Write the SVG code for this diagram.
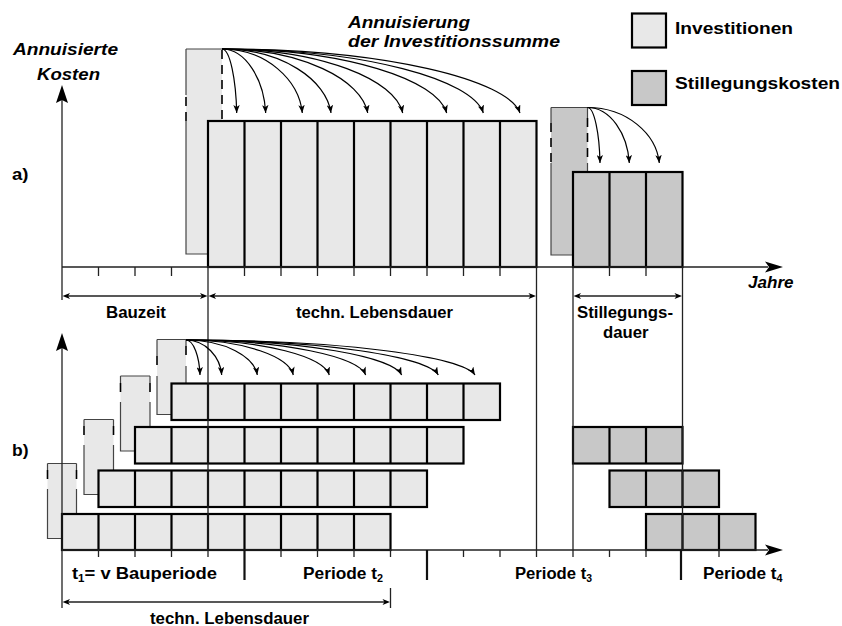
<svg xmlns="http://www.w3.org/2000/svg" width="842" height="626" viewBox="0 0 842 626">
<defs>
<style>
.inv{fill:#e8e8e8}
.sti{fill:#c8c8c8}
.blk{stroke:#000;stroke-width:2.2}
.div{stroke:#000;stroke-width:2.2;fill:none}
.edge{stroke:#444;stroke-width:1.2;fill:none}
.dash{stroke:#000;stroke-width:1.6;fill:none;stroke-dasharray:9 6}
.ln{stroke:#222;stroke-width:1.3;fill:none}
.thick{stroke:#111;stroke-width:2.2;fill:none}
.cur{stroke:#000;stroke-width:1.2;fill:none;marker-end:url(#ah)}
.hd{fill:#000}
.t{font-family:"Liberation Sans",Arial,Helvetica,sans-serif;font-weight:bold;font-size:16px;fill:#000}
.it{font-style:italic}
.sub{font-size:10px}
</style>
<marker id="ah" viewBox="0 0 10 8" refX="10" refY="4" markerWidth="8" markerHeight="6.4" markerUnits="userSpaceOnUse" orient="auto">
<path d="M0,0 L10,4 L0,8 L2.5,4 Z" fill="#000"/>
</marker>
</defs>
<rect width="842" height="626" fill="#fff"/>

<!-- legend -->
<g id="legend-inv">
<rect x="632" y="13.5" width="34" height="34" class="inv blk"/>
<text class="t" x="675" y="34" font-size="17" textLength="118" lengthAdjust="spacingAndGlyphs">Investitionen</text>
</g>
<g id="legend-sti">
<rect x="632" y="71" width="34" height="34" class="sti blk"/>
<text class="t" x="675" y="89" font-size="17" textLength="165" lengthAdjust="spacingAndGlyphs">Stillegungskosten</text>
</g>

<!-- labels -->
<g id="labels">
<text class="t it" x="13" y="55" textLength="105" lengthAdjust="spacingAndGlyphs">Annuisierte</text>
<text class="t it" x="37" y="80" textLength="63" lengthAdjust="spacingAndGlyphs">Kosten</text>
<text class="t it" x="348" y="28" textLength="122" lengthAdjust="spacingAndGlyphs">Annuisierung</text>
<text class="t it" x="348" y="47" textLength="212" lengthAdjust="spacingAndGlyphs">der Investitionssumme</text>
<text class="t" x="12" y="179.5" textLength="16.5" lengthAdjust="spacingAndGlyphs">a)</text>
<text class="t" x="12" y="456" textLength="16.5" lengthAdjust="spacingAndGlyphs">b)</text>
<text class="t it" x="748" y="288" textLength="45.5" lengthAdjust="spacingAndGlyphs">Jahre</text>
<text class="t" x="106" y="318" textLength="60" lengthAdjust="spacingAndGlyphs">Bauzeit</text>
<text class="t" x="296" y="318" textLength="157" lengthAdjust="spacingAndGlyphs">techn. Lebensdauer</text>
<text class="t" x="577" y="318" textLength="96" lengthAdjust="spacingAndGlyphs">Stillegungs-</text>
<text class="t" x="603" y="338" textLength="45.5" lengthAdjust="spacingAndGlyphs">dauer</text>
<text class="t" x="72" y="579" textLength="145" lengthAdjust="spacingAndGlyphs">t<tspan class="sub" dy="3">1</tspan><tspan dy="-3">= v Bauperiode</tspan></text>
<text class="t" x="303" y="579" textLength="80" lengthAdjust="spacingAndGlyphs">Periode t<tspan class="sub" dy="3">2</tspan></text>
<text class="t" x="515" y="579" textLength="77" lengthAdjust="spacingAndGlyphs">Periode t<tspan class="sub" dy="3">3</tspan></text>
<text class="t" x="703" y="579" textLength="79.5" lengthAdjust="spacingAndGlyphs">Periode t<tspan class="sub" dy="3">4</tspan></text>
<text class="t" x="150" y="624" textLength="159" lengthAdjust="spacingAndGlyphs">techn. Lebensdauer</text>
</g>

<!-- a) investment -->
<g id="a-inv">
<rect x="186" y="49" width="36" height="205" class="inv"/>
<path class="edge" d="M186,49 H222 M186,49 V95 M186,121 V254 H208"/>
<path class="dash" d="M186,97 V121 M222,50 V121"/>
</g>
<g id="a-block">
<rect x="208" y="121" width="328.5" height="146" class="inv blk"/>
<path class="div" d="M244.5,121V267 M281,121V267 M317.5,121V267 M354,121V267 M390.5,121V267 M427,121V267 M463.5,121V267 M500,121V267"/>
</g>
<g id="a-sti-inv">
<rect x="551" y="107.5" width="36.5" height="147.5" class="sti"/>
<path class="edge" d="M551,107.5 H587.5 M551,107.5 V123 M551,163 V255 H573 M587.5,107.5 V118 M587.5,163 V172"/>
<path class="dash" d="M551,123 V163 M587.5,118 V163"/>
</g>
<g id="a-sti-block">
<rect x="573" y="172" width="109.5" height="95" class="sti blk"/>
<path class="div" d="M609.5,172V267 M646,172V267"/>
</g>

<!-- b) investments -->
<g id="b-inv1">
<rect x="47.5" y="463.5" width="29" height="75" class="inv"/>
<path class="edge" d="M47.5,463.5 H76.5 M47.5,463.5 V470 M47.5,489 V538.5 H62 M76.5,463.5 V470 M76.5,489 V514"/>
<path class="dash" d="M47.5,470 V480 M76.5,470 V480"/>
</g>
<g id="b-inv2">
<rect x="84" y="419.5" width="29.5" height="75" class="inv"/>
<path class="edge" d="M84,419.5 H113.5 M84,419.5 V426 M84,445 V494.5 H98.5 M113.5,419.5 V426 M113.5,445 V470.5"/>
<path class="dash" d="M84,426 V436 M113.5,426 V436"/>
</g>
<g id="b-inv3">
<rect x="120.5" y="376" width="29.5" height="75" class="inv"/>
<path class="edge" d="M120.5,376 H150 M120.5,376 V383 M120.5,402 V451 H135 M150,376 V383 M150,402 V427"/>
<path class="dash" d="M120.5,383 V393 M150,383 V393"/>
</g>
<g id="b-inv4">
<rect x="157" y="339.5" width="29" height="75" class="inv"/>
<path class="edge" d="M157,339.5 H186 M157,339.5 V356 M157,376 V414.5 H171.5 M186,339.5 V346 M186,366 V383.5"/>
<path class="dash" d="M157,356 V367 M186,346 V358"/>
</g>

<!-- b) blocks -->
<g id="b-row1">
<rect x="62" y="514" width="328.5" height="36" class="inv blk"/>
<path class="div" d="M98.5,514V550 M135,514V550 M171.5,514V550 M208,514V550 M244.5,514V550 M281,514V550 M317.5,514V550 M354,514V550"/>
</g>
<g id="b-row2">
<rect x="98.5" y="470.5" width="328.5" height="36.5" class="inv blk"/>
<path class="div" d="M135,470.5V507 M171.5,470.5V507 M208,470.5V507 M244.5,470.5V507 M281,470.5V507 M317.5,470.5V507 M354,470.5V507 M390.5,470.5V507"/>
</g>
<g id="b-row3">
<rect x="135" y="427" width="328.5" height="36.5" class="inv blk"/>
<path class="div" d="M171.5,427V463.5 M208,427V463.5 M244.5,427V463.5 M281,427V463.5 M317.5,427V463.5 M354,427V463.5 M390.5,427V463.5 M427,427V463.5"/>
</g>
<g id="b-row4">
<rect x="171.5" y="383.5" width="328.5" height="36.5" class="inv blk"/>
<path class="div" d="M208,383.5V420 M244.5,383.5V420 M281,383.5V420 M317.5,383.5V420 M354,383.5V420 M390.5,383.5V420 M427,383.5V420 M463.5,383.5V420"/>
</g>
<g id="b-sti3">
<rect x="573" y="427" width="109.5" height="36.5" class="sti blk"/>
<path class="div" d="M609.5,427V463.5 M646,427V463.5"/>
</g>
<g id="b-sti2">
<rect x="609.5" y="470.5" width="109.5" height="36.5" class="sti blk"/>
<path class="div" d="M646,470.5V507 M682.5,470.5V507"/>
</g>
<g id="b-sti1">
<rect x="646" y="514" width="109.5" height="36" class="sti blk"/>
<path class="div" d="M682.5,514V550 M719,514V550"/>
</g>

<!-- connectors: axes, guide lines, dimensions, annuity arrows -->
<g id="connectors">
<path class="ln" d="M62,100 V300 M62,267 H768"/>
<polygon class="hd" points="62,85 56,103 62,100 68,103"/>
<polygon class="hd" points="783,267 765,261.5 769,267 765,272.5"/>
<path class="ln" d="M98.5,267V276 M135,267V276 M171.5,267V276 M244.5,267V276 M281,267V276 M317.5,267V276 M354,267V276 M390.5,267V276 M427,267V276 M463.5,267V276 M500,267V276 M609.5,267V276 M646,267V276"/>
<path class="ln" d="M208,267 V557 M536.5,267 V557 M573,267 V557 M682.5,267 V550"/>
<path class="ln" d="M66,296 H204 M212,296 H532.5 M577,296 H678.5"/>
<polygon class="hd" points="62.5,296 70,293 68,296 70,299"/>
<polygon class="hd" points="207.5,296 200,293 202,296 200,299"/>
<polygon class="hd" points="208.5,296 216,293 214,296 216,299"/>
<polygon class="hd" points="536,296 528.5,293 530.5,296 528.5,299"/>
<polygon class="hd" points="573.5,296 581,293 579,296 581,299"/>
<polygon class="hd" points="682,296 674.5,293 676.5,296 674.5,299"/>
<path class="ln" d="M62,348 V608 M62,550 H768"/>
<polygon class="hd" points="62,333 56,351 62,348 68,351"/>
<polygon class="hd" points="783,550 765,544.5 769,550 765,555.5"/>
<path class="ln" d="M98.5,550V557 M135,550V557 M171.5,550V557 M281,550V557 M317.5,550V557 M354,550V557 M390.5,550V557 M463.5,550V557 M500,550V557 M609.5,550V557 M646,550V557 M719,550V557"/>
<path class="thick" d="M244.5,550V580 M427,550V580 M681,550V580"/>
<path class="ln" d="M66,602 H386.5 M390.5,588 V608"/>
<polygon class="hd" points="62.5,602 70,599 68,602 70,605"/>
<polygon class="hd" points="390,602 382.5,599 384.5,602 382.5,605"/>
<path class="cur" d="M222,49 C230.1,49 236,80 236.7,113"/>
<path class="cur" d="M222,49 C246,49 264,80 265.7,113"/>
<path class="cur" d="M222,49 C266.2,49 299,80 302.3,113"/>
<path class="cur" d="M222,49 C282,49 326.6,80 331,113"/>
<path class="cur" d="M222,49 C302.1,49 361.9,80 367.7,113"/>
<path class="cur" d="M222,49 C321.4,49 395.5,80 402.7,113"/>
<path class="cur" d="M222,49 C345.6,49 437.7,80 446.7,113"/>
<path class="cur" d="M222,49 C365.7,49 472.8,80 483.3,113"/>
<path class="cur" d="M222,49 C385.9,49 508,80 520,113"/>
<path class="cur" d="M587.5,107.5 C594.3,107.5 599.5,134 600,163"/>
<path class="cur" d="M587.5,107.5 C610.4,107.5 627.6,134 629.3,163"/>
<path class="cur" d="M587.5,107.5 C626.9,107.5 656.4,134 659.3,163"/>
<path class="cur" d="M186,340 C193.7,340 199.4,357 200,375"/>
<path class="cur" d="M186,340 C205.6,340 220.3,357 221.7,375"/>
<path class="cur" d="M186,340 C225.2,340 254.4,357 257.3,375"/>
<path class="cur" d="M186,340 C245,340 289,357 293.3,375"/>
<path class="cur" d="M186,340 C264.8,340 323.6,357 329.3,375"/>
<path class="cur" d="M186,340 C284.8,340 358.5,357 365.7,375"/>
<path class="cur" d="M186,340 C304.6,340 393,357 401.7,375"/>
<path class="cur" d="M186,340 C324.8,340 428.2,357 438.3,375"/>
<path class="cur" d="M186,340 C345,340 463.4,357 475,375"/>
</g>
</svg>
